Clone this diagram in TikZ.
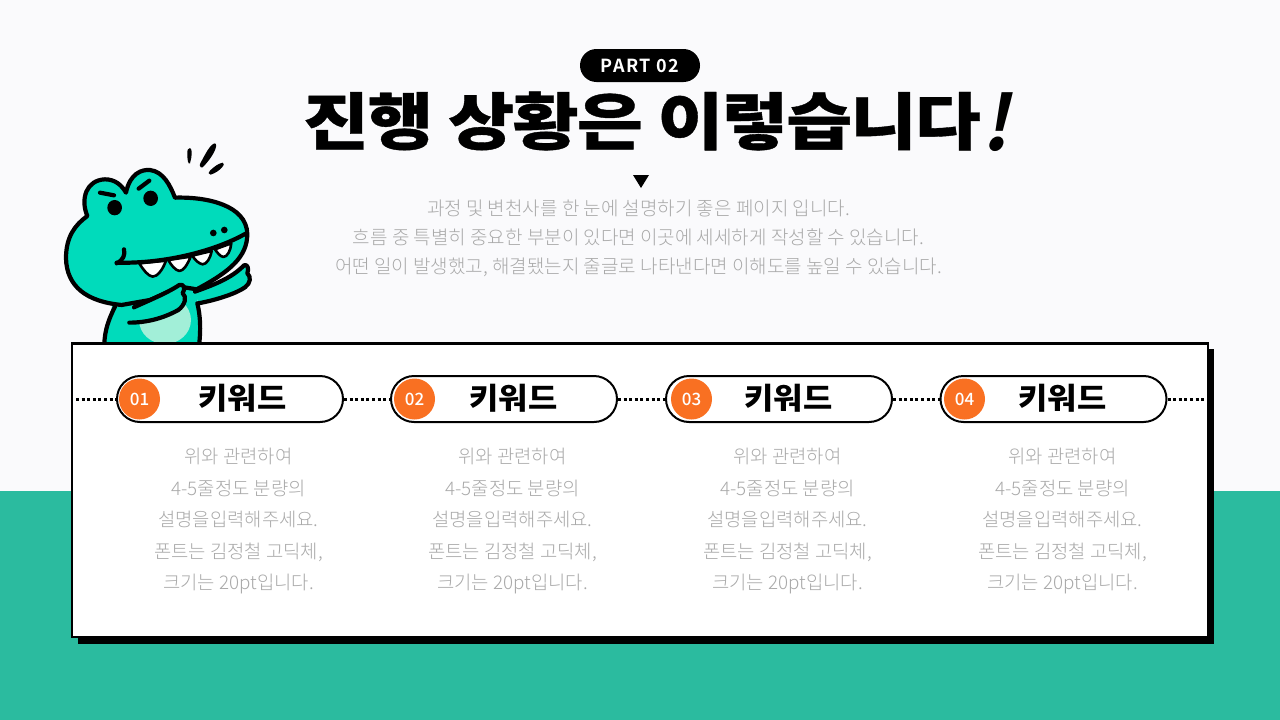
\documentclass[tikz,border=0pt]{standalone}
\usepackage{fontspec}
\usetikzlibrary{shapes.misc}
\setmainfont{Noto Sans CJK KR}
\newfontfamily\krblack[FakeStretch=1.06]{Noto Sans CJK KR Black}
\newfontfamily\krbang{Noto Sans CJK KR Bold}
\newfontfamily\krlight{Noto Sans CJK KR Light}
\newfontfamily\krtitle[FakeStretch=1.155,LetterSpace=-2.5,FakeBold=0.6]{Noto Sans CJK KR Black}
\newfontfamily\krpart[LetterSpace=9]{Noto Sans CJK KR Bold}
\newfontfamily\krmedium{Noto Sans CJK KR Medium}
\definecolor{bgtop}{HTML}{FAFAFC}
\definecolor{bggreen}{HTML}{2BBB9F}
\definecolor{croco}{HTML}{00DBBB}
\definecolor{belly}{HTML}{A2EFD8}
\definecolor{badge}{HTML}{F97022}
\definecolor{bodygray}{HTML}{A9A9A9}
\tikzset{
  pill/.style={draw=black,line width=2pt,fill=white,rounded rectangle,minimum width=226pt,minimum height=46pt,inner sep=0pt},
  numdot/.style={circle,fill=badge,text=white,minimum size=41pt,inner sep=0pt,font=\krmedium\fontsize{17}{17}\selectfont},
  keyword/.style={font=\krblack\fontsize{30}{30}\selectfont,inner sep=0pt},
  desc/.style={font=\krlight\fontsize{18.8}{31.5}\selectfont,text=bodygray,align=center,inner sep=0pt},
  intro/.style={font=\krlight\fontsize{19}{29}\selectfont,text=bodygray,align=center,inner sep=0pt},
  dots/.style={line width=3pt,black,dash pattern=on 3pt off 2.6pt},
  ink/.style={draw=black,line width=4.2pt,line join=round,line cap=round},
  toothline/.style={draw=black,line width=2.6pt,line join=round,fill=white},
}
\begin{document}
\begin{tikzpicture}[x=1pt,y=-1pt]
\useasboundingbox (0,0) rectangle (1280,720);
\fill[bgtop] (0,0) rectangle (1280,720);
\fill[bggreen] (0,491) rectangle (1280,720);

% crocodile
\begin{scope}[shift={(50,130)},x=0.3333pt,y=-0.3333pt]
  \fill[croco] (195,480) -- (165,640) -- (450,640) -- (440,470) -- cycle;
  \begin{scope}
    \clip (150,500) rectangle (480,640);
    \fill[belly] (345,570) ellipse (78 and 72);
  \end{scope}
  \draw[ink] (195,530) .. controls (175,570) and (165,600) .. (163,640);
  \draw[ink] (442,520) .. controls (452,560) and (452,600) .. (448,640);
  % head
  \draw[ink,fill=croco] (215,525) .. controls (110,515) and (50,470) .. (48,385)
    .. controls (48,320) and (75,285) .. (112,258)
    .. controls (90,205) and (110,150) .. (165,148)
    .. controls (195,148) and (215,165) .. (228,188)
    .. controls (240,130) and (275,118) .. (300,120)
    .. controls (340,125) and (360,165) .. (375,203)
    .. controls (470,200) and (590,225) .. (592,312)
    .. controls (592,380) and (540,425) .. (440,478)
    -- (390,470) -- (300,510) -- cycle;
  % teeth
  \draw[toothline] (268,400) -- (348,392) .. controls (338,420) and (322,440) .. (308,440) .. controls (294,438) and (280,420) .. (268,400) -- cycle;
  \draw[toothline] (355,390) -- (422,380) .. controls (412,405) and (400,423) .. (388,423) .. controls (376,421) and (363,405) .. (355,390) -- cycle;
  \draw[toothline] (427,377) -- (485,363) .. controls (481,385) and (470,403) .. (458,403) .. controls (446,401) and (435,390) .. (427,377) -- cycle;
  \draw[toothline] (495,358) -- (544,340) .. controls (542,362) and (532,381) .. (520,381) .. controls (510,379) and (502,368) .. (495,358) -- cycle;
  % mouth
  \draw[ink] (585,312) .. controls (500,360) and (350,402) .. (200,398);
  \draw[ink] (222,358) .. controls (226,375) and (220,390) .. (200,400);
  % eyes, nostrils, brows
  \fill (194,233) ellipse (22 and 23);
  \fill (302,205) ellipse (22 and 23);
  \fill (490,309) circle (10);
  \fill (523,300) circle (10);
  \draw[ink] (150,188) -- (192,196);
  \draw[ink] (266,176) -- (298,152);
  % arm right
  \draw[ink,fill=croco] (435,485) .. controls (490,465) and (545,445) .. (582,406)
    .. controls (592,401) and (598,416) .. (592,430)
    .. controls (604,440) and (602,460) .. (585,472)
    .. controls (560,490) and (500,510) .. (445,520);
  % arm left (across chest)
  \draw[ink,fill=croco] (252,532) .. controls (300,510) and (350,490) .. (388,465)
    .. controls (400,460) and (408,475) .. (398,490)
    .. controls (412,500) and (405,525) .. (385,540)
    .. controls (340,565) and (290,578) .. (238,578);
  % surprise marks
  \fill (420,54) .. controls (428,56) and (426,80) .. (420,100) .. controls (414,104) and (412,90) .. (412,70) .. controls (412,60) and (414,54) .. (420,54) -- cycle;
  \fill (495,40) .. controls (506,44) and (490,80) .. (458,112) .. controls (450,114) and (447,106) .. (452,98) .. controls (465,75) and (480,42) .. (495,40) -- cycle;
  \fill (518,98) .. controls (530,100) and (510,125) .. (482,134) .. controls (474,134) and (474,126) .. (480,122) .. controls (490,112) and (505,100) .. (518,98) -- cycle;
\end{scope}

% heading
\node[fill=black,rounded rectangle,minimum width=120pt,minimum height=33pt,inner sep=0pt,text=white,font=\krpart\fontsize{18}{18}\selectfont] (part) at (640,65.5) {PART 02};
\node[inner sep=0pt,font=\krtitle\fontsize{62}{62}\selectfont] (title) at (642,121) {진행 상황은 이렇습니다};
\node[inner sep=0pt,xslant=0.21,font=\krbang\fontsize{76}{76}\selectfont] (bang) at (1002,122) {!};
\fill[black] (633,175) -- (649,175) -- (641,188) -- cycle;
\node[intro] (lead) at (638.5,238) {과정 및 변천사를 한 눈에 설명하기 좋은 페이지 입니다.\\흐름 중 특별히 중요한 부분이 있다면 이곳에 세세하게 작성할 수 있습니다.\\어떤 일이 발생했고, 해결됐는지 줄글로 나타낸다면 이해도를 높일 수 있습니다.};

% card
\fill[black] (78,349) rectangle (1214,644);
\draw[black,line width=2.4pt,fill=white] (72,343.5) rectangle (1208,637);

% pills
\node[pill] (p1) at (230,399) {};
\node[pill] (p2) at (504,399) {};
\node[pill] (p3) at (779,399) {};
\node[pill] (p4) at (1053.5,399) {};
\coordinate (lft) at (76,399);
\coordinate (rgt) at (1206,399);
\draw[dots] (lft) -- (p1.west);
\draw[dots] (p1.east) -- (p2.west);
\draw[dots] (p2.east) -- (p3.west);
\draw[dots] (p3.east) -- (p4.west);
\draw[dots] (p4.east) -- (rgt);

\node[numdot] (n1) at (139.5,399) {01};
\node[numdot] (n2) at (414.5,399) {02};
\node[numdot] (n3) at (691.5,399) {03};
\node[numdot] (n4) at (964.5,399) {04};
\node[keyword] (k1) at (242.5,398.5) {키워드};
\node[keyword] (k2) at (513.5,398.5) {키워드};
\node[keyword] (k3) at (788.5,398.5) {키워드};
\node[keyword] (k4) at (1062.5,398.5) {키워드};
\node[desc] (d1) at (238.5,521.5) {위와 관련하여\\4-5줄정도 분량의\\설명을입력해주세요.\\폰트는 김정철 고딕체,\\크기는 20pt입니다.};
\node[desc] (d2) at (512.5,521.5) {위와 관련하여\\4-5줄정도 분량의\\설명을입력해주세요.\\폰트는 김정철 고딕체,\\크기는 20pt입니다.};
\node[desc] (d3) at (787.5,521.5) {위와 관련하여\\4-5줄정도 분량의\\설명을입력해주세요.\\폰트는 김정철 고딕체,\\크기는 20pt입니다.};
\node[desc] (d4) at (1062.5,521.5) {위와 관련하여\\4-5줄정도 분량의\\설명을입력해주세요.\\폰트는 김정철 고딕체,\\크기는 20pt입니다.};
\end{tikzpicture}
\end{document}
